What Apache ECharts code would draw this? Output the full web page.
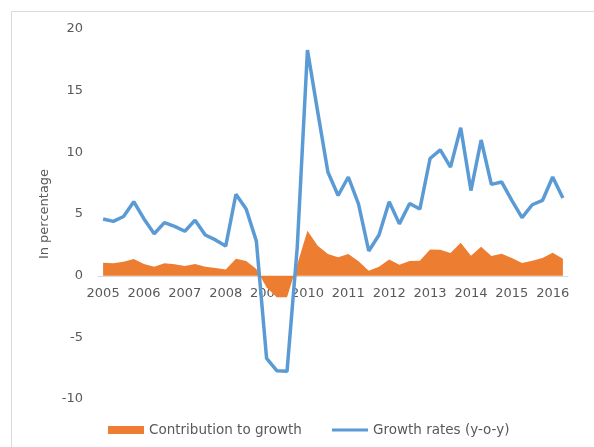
<!DOCTYPE html>
<html>
<head>
	<meta charset="utf-8">
	<title>Contribution to growth</title>
	<script src="https://cdn.jsdelivr.net/npm/echarts@6/dist/echarts.min.js"></script>
	<style>
		html, body { margin: 0; padding: 0; background: #fff; }
		#main { width: 594px; height: 447px; }
	</style>
</head>
<body>
	<div id="main"></div>
	<script type="text/javascript">
		// year tick labels (one label every 4 quarters)
		var years = ['2005', '2006', '2007', '2008', '2009', '2010', '2011', '2012', '2013', '2014', '2015', '2016'];
		// quarterly categories, 2005Q1 .. 2016Q2
		var quarters = [];
		for (var y = 0; y < years.length; y++) {
			for (var q = 1; q <= 4; q++) {
				quarters.push(years[y] + 'Q' + q);
			}
		}
		quarters = quarters.slice(0, 46);

		// contribution to growth (orange area)
		var contribution = [1.05, 1.0, 1.13, 1.35, 0.95, 0.73, 1.0, 0.92, 0.78, 0.95, 0.73, 0.62, 0.51, 1.38, 1.19, 0.55,
			-0.95, -1.75, -1.75, 0.9, 3.64, 2.43, 1.75, 1.49, 1.75, 1.16, 0.4, 0.73, 1.32, 0.89, 1.19, 1.21,
			2.13, 2.1, 1.84, 2.67, 1.62, 2.35, 1.59, 1.78, 1.43, 1.03, 1.21, 1.43, 1.86, 1.38];
		// growth rates y-o-y (blue line)
		var growth = [4.6, 4.4, 4.8, 6.0, 4.6, 3.4, 4.3, 4.0, 3.6, 4.5, 3.3, 2.9, 2.4, 6.6, 5.4, 2.8,
			-6.7, -7.7, -7.75, 2.3, 18.3, 13.3, 8.4, 6.5, 8.0, 5.8, 2.0, 3.3, 6.0, 4.2, 5.85, 5.4,
			9.5, 10.2, 8.8, 12.0, 6.9, 11.0, 7.4, 7.6, 6.1, 4.7, 5.75, 6.1, 8.0, 6.3];

		var textColor = '#595959';
		var fontName = 'DejaVu Sans';
		var legendText = { color: textColor, fontSize: 13.5, fontFamily: fontName };

		var myChart = echarts.init(document.getElementById('main'));
		var option = {
			animation: false,
			textStyle: { fontFamily: fontName },
			graphic: [{
				type: 'rect',
				shape: { x: 11.5, y: 11.5, width: 700, height: 500 },
				style: { fill: 'none', stroke: '#d9d9d9', lineWidth: 1 },
				silent: true
			}],
			grid: { left: 98, right: 26, top: 29, bottom: 48 },
			// two legends so each key can have its own height
			legend: [
				{
					left: 103,
					top: 418,
					itemWidth: 36,
					itemHeight: 8,
					textStyle: legendText,
					data: [{ name: 'Contribution to growth', icon: 'rect' }]
				},
				{
					left: 327,
					top: 418,
					itemWidth: 36,
					itemHeight: 3,
					textStyle: legendText,
					data: [{ name: 'Growth rates (y-o-y)', icon: 'rect' }]
				}
			],
			xAxis: {
				type: 'category',
				data: quarters,
				boundaryGap: true,
				offset: -123,
				axisLine: { onZero: false, lineStyle: { color: '#d9d9d9', width: 1 } },
				axisTick: { show: false },
				axisLabel: {
					interval: 3,
					margin: 11,
					color: textColor,
					fontSize: 13,
					formatter: function (v) { return v.substr(0, 4); }
				},
				splitLine: { show: false }
			},
			yAxis: {
				type: 'value',
				min: -10,
				max: 20,
				interval: 5,
				name: 'In percentage',
				nameLocation: 'middle',
				nameRotate: 90,
				nameGap: 46,
				nameTextStyle: { color: textColor, fontSize: 13 },
				axisLine: { show: false },
				axisTick: { show: false },
				splitLine: { show: false },
				axisLabel: { color: textColor, fontSize: 13, margin: 15 }
			},
			series: [
				{
					name: 'Contribution to growth',
					type: 'line',
					data: contribution,
					color: '#ED7D31',
					symbol: 'none',
					lineStyle: { width: 0 },
					areaStyle: { color: '#ED7D31', opacity: 1 }
				},
				{
					name: 'Growth rates (y-o-y)',
					type: 'line',
					data: growth,
					color: '#5B9BD5',
					symbol: 'none',
					lineStyle: { width: 3.5, color: '#5B9BD5' }
				}
			]
		};
		myChart.setOption(option);
	</script>
</body>
</html>
